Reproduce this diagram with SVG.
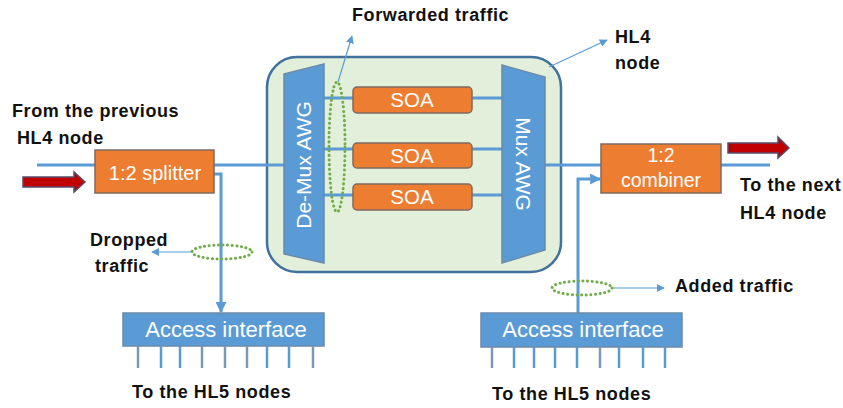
<svg xmlns="http://www.w3.org/2000/svg" width="843" height="408" viewBox="0 0 843 408">
  <style>
    .lbl { font-family: "Liberation Sans", Arial, sans-serif; font-weight: bold; font-size: 18px; fill: #111; letter-spacing: 0.6px; }
    .in { font-family: "Liberation Sans", Arial, sans-serif; fill: #fff; text-anchor: middle; }
    .orange { fill: #ED7D31; stroke: #7F6A5E; stroke-width: 1.5; }
    .blue { fill: #5B9BD5; stroke: #6A8BAA; stroke-width: 1.5; }
    .fiber { stroke: #5B9BD5; stroke-width: 3; fill: none; }
    .thin { stroke: #5B9BD5; stroke-width: 1.2; fill: none; }
    .dots { fill: none; stroke: #70AD47; stroke-width: 3; stroke-dasharray: 0.1 4.5; stroke-linecap: round; }
    .leg { stroke: #5B9BD5; stroke-width: 2.5; }
    .leg2 { stroke: #7D98B3; stroke-width: 2.5; }
    .bigarrow { fill: #C00000; stroke: #5A4A6A; stroke-width: 1.5; }
  </style>
  <defs>
    <marker id="tipSmall" viewBox="0 0 10 10" refX="9" refY="5" markerWidth="8" markerHeight="8" markerUnits="userSpaceOnUse" orient="auto">
      <path d="M0,0 L10,5 L0,10 z" fill="#5B9BD5"/>
    </marker>
    <marker id="tipBig" viewBox="0 0 10 10" refX="9" refY="5" markerWidth="11" markerHeight="11" markerUnits="userSpaceOnUse" orient="auto">
      <path d="M0,0 L10,5 L0,10 z" fill="#5B9BD5"/>
    </marker>
  </defs>

  <!-- HL4 node enclosure -->
  <g id="hl4-node">
    <rect x="267" y="57" width="294" height="215" rx="30" ry="30" fill="#E2EFDA" stroke="#41719C" stroke-width="2.5"/>
  </g>

  <!-- connectors -->
  <g id="connectors">
    <!-- main trunk in -->
    <line class="fiber" x1="37" y1="165" x2="284" y2="165"/>
    <!-- trunk out -->
    <line class="fiber" x1="545" y1="165" x2="770" y2="165"/>
    <!-- demux to SOAs to mux -->
    <line class="fiber" x1="324" y1="98" x2="353" y2="98"/>
    <line class="fiber" x1="472" y1="98" x2="502" y2="98"/>
    <line class="fiber" x1="324" y1="149" x2="353" y2="149"/>
    <line class="fiber" x1="472" y1="149" x2="502" y2="149"/>
    <line class="fiber" x1="324" y1="195" x2="353" y2="195"/>
    <line class="fiber" x1="472" y1="195" x2="502" y2="195"/>
    <!-- drop branch -->
    <polyline class="fiber" points="214,174 221,174 221,312" marker-end="url(#tipBig)"/>
    <!-- add branch -->
    <polyline class="fiber" points="578,313 578,179 600,179" marker-end="url(#tipBig)"/>
    <!-- annotation pointers -->
    <line class="thin" x1="338" y1="82" x2="352" y2="36" marker-end="url(#tipSmall)"/>
    <line class="thin" x1="549" y1="67" x2="607" y2="40" marker-end="url(#tipSmall)"/>
    <line class="thin" x1="192" y1="252" x2="152" y2="252" marker-end="url(#tipSmall)"/>
    <line class="thin" x1="612" y1="288" x2="664" y2="288" marker-end="url(#tipSmall)"/>
  </g>

  <!-- big traffic arrows -->
  <g id="arrow-in">
    <path class="bigarrow" d="M23,177 H74 V172 L85,182 L74,192 V187 H23 Z"/>
  </g>
  <g id="arrow-out">
    <path class="bigarrow" d="M728,143 H778 V137 L789,148 L778,158 V153 H728 Z"/>
  </g>

  <!-- splitter -->
  <g id="splitter">
    <rect class="orange" x="95" y="150" width="119" height="43"/>
    <text class="in" x="155" y="180" font-size="20">1:2 splitter</text>
  </g>

  <!-- combiner -->
  <g id="combiner">
    <rect class="orange" x="601" y="144" width="120" height="49"/>
    <text class="in" x="661" y="162" font-size="19.5">1:2</text>
    <text class="in" x="661" y="187" font-size="19.5">combiner</text>
  </g>

  <!-- De-Mux AWG -->
  <g id="demux">
    <polygon class="blue" points="284,74 324,64 324,263 284,254"/>
    <text class="in" font-size="21" transform="translate(311,165) rotate(-90)">De-Mux AWG</text>
  </g>

  <!-- Mux AWG -->
  <g id="mux">
    <polygon class="blue" points="502,65 545,77 545,250 502,263"/>
    <text class="in" font-size="21" transform="translate(516,164) rotate(90)">Mux AWG</text>
  </g>

  <!-- SOAs -->
  <g id="soa1">
    <rect class="orange" x="353" y="87" width="119" height="26" rx="4"/>
    <text class="in" x="412" y="107" font-size="20.5">SOA</text>
  </g>
  <g id="soa2">
    <rect class="orange" x="353" y="143" width="119" height="25" rx="4"/>
    <text class="in" x="412" y="163" font-size="20.5">SOA</text>
  </g>
  <g id="soa3">
    <rect class="orange" x="353" y="184" width="119" height="26" rx="4"/>
    <text class="in" x="412" y="204" font-size="20.5">SOA</text>
  </g>

  <!-- traffic groupings -->
  <g id="forwarded-group">
    <ellipse class="dots" cx="337" cy="147" rx="8" ry="65"/>
  </g>
  <g id="dropped-group">
    <ellipse class="dots" cx="222" cy="252" rx="30" ry="7"/>
  </g>
  <g id="added-group">
    <ellipse class="dots" cx="582" cy="288" rx="30" ry="7"/>
  </g>

  <!-- access interfaces -->
  <g id="access-left">
    <rect class="blue" x="123" y="313" width="201" height="33"/>
    <text class="in" x="226" y="337" font-size="22">Access interface</text>
    <line class="leg2" x1="138" y1="346" x2="138" y2="368"/>
    <line class="leg" x1="161" y1="346" x2="161" y2="368"/>
    <line class="leg" x1="180" y1="346" x2="180" y2="368"/>
    <line class="leg2" x1="202" y1="346" x2="202" y2="368"/>
    <line class="leg2" x1="225" y1="346" x2="225" y2="368"/>
    <line class="leg2" x1="247" y1="346" x2="247" y2="368"/>
    <line class="leg" x1="267" y1="346" x2="267" y2="368"/>
    <line class="leg" x1="289" y1="346" x2="289" y2="368"/>
    <line class="leg2" x1="313" y1="346" x2="313" y2="368"/>
  </g>
  <g id="access-right">
    <rect class="blue" x="481" y="313" width="201" height="34"/>
    <text class="in" x="583" y="337" font-size="22">Access interface</text>
    <line class="leg2" x1="492" y1="347" x2="492" y2="368"/>
    <line class="leg" x1="514" y1="347" x2="514" y2="368"/>
    <line class="leg" x1="534" y1="347" x2="534" y2="368"/>
    <line class="leg" x1="555" y1="347" x2="555" y2="368"/>
    <line class="leg" x1="577" y1="347" x2="577" y2="368"/>
    <line class="leg2" x1="600" y1="347" x2="600" y2="368"/>
    <line class="leg" x1="619" y1="347" x2="619" y2="368"/>
    <line class="leg" x1="643" y1="347" x2="643" y2="368"/>
    <line class="leg" x1="665" y1="347" x2="665" y2="368"/>
  </g>

  <!-- labels -->
  <g id="labels">
    <text class="lbl" x="12" y="117">From the previous</text>
    <text class="lbl" x="17" y="144">HL4 node</text>
    <text class="lbl" x="352" y="21">Forwarded traffic</text>
    <text class="lbl" x="615" y="43">HL4</text>
    <text class="lbl" x="615" y="69">node</text>
    <text class="lbl" x="740" y="191">To the next</text>
    <text class="lbl" x="740" y="219">HL4 node</text>
    <text class="lbl" x="90" y="246">Dropped</text>
    <text class="lbl" x="95" y="272">traffic</text>
    <text class="lbl" x="675" y="292">Added traffic</text>
    <text class="lbl" x="132" y="398">To the HL5 nodes</text>
    <text class="lbl" x="492" y="400">To the HL5 nodes</text>
  </g>
</svg>
